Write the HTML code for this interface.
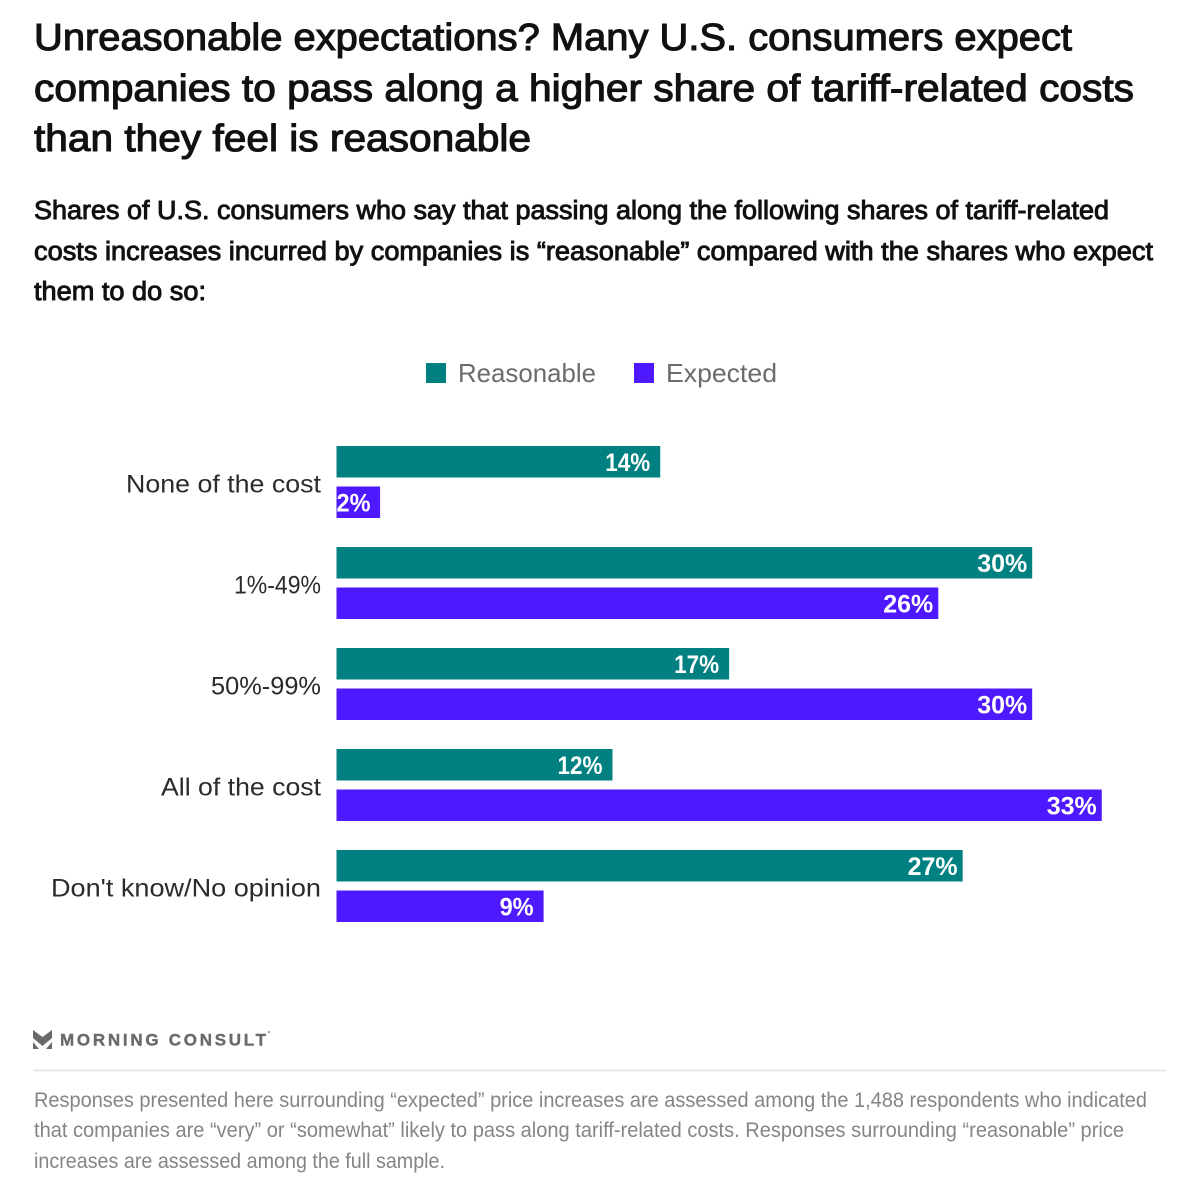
<!DOCTYPE html>
<html lang="en">
<head>
<meta charset="utf-8">
<title>Unreasonable expectations</title>
<style>
html,body{margin:0;padding:0;background:#fff;}
svg{display:block;font-family:"Liberation Sans",sans-serif;}
</style>
</head>
<body>
<svg id="chart" width="1200" height="1190" viewBox="0 0 1200 1190" xmlns="http://www.w3.org/2000/svg">
  <g fill="#111" stroke="#111" stroke-width="1.1" font-size="38">
    <text x="34" y="50" textLength="1038" lengthAdjust="spacingAndGlyphs">Unreasonable expectations? Many U.S. consumers expect</text>
    <text x="34" y="101" textLength="1100" lengthAdjust="spacingAndGlyphs">companies to pass along a higher share of tariff-related costs</text>
    <text x="34" y="151" textLength="497" lengthAdjust="spacingAndGlyphs">than they feel is reasonable</text>
  </g>
  <g fill="#111" stroke="#111" stroke-width="0.9" font-size="25.5">
    <text x="34" y="219" textLength="1075" lengthAdjust="spacingAndGlyphs">Shares of U.S. consumers who say that passing along the following shares of tariff-related</text>
    <text x="34" y="260" textLength="1119" lengthAdjust="spacingAndGlyphs">costs increases incurred by companies is “reasonable” compared with the shares who expect</text>
    <text x="34" y="300" textLength="172" lengthAdjust="spacingAndGlyphs">them to do so:</text>
  </g>
  <g font-size="26" fill="#6b6b6b">
    <g>
      <rect x="426" y="363" width="20" height="20" fill="#008080"></rect>
      <text x="458" y="382" textLength="138" lengthAdjust="spacingAndGlyphs">Reasonable</text>
    </g>
    <g>
      <rect x="634" y="363" width="20" height="20" fill="#4f19ff"></rect>
      <text x="666" y="382" textLength="111" lengthAdjust="spacingAndGlyphs">Expected</text>
    </g>
  </g>
  <g id="plot"></g>
  <g>
    <path fill="#6a6a6a" d="M33 1030 L42.5 1037 L52 1030 L52 1038 L42.5 1046 L33 1038 Z M33 1042 L39 1049 L33 1049 Z M52 1042 L52 1049 L46 1049 Z"></path>
    <text x="60" y="1045.5" font-size="17" font-weight="bold" fill="#6a6a6a" stroke="#6a6a6a" stroke-width="0.4" textLength="206" lengthAdjust="spacing">MORNING CONSULT</text>
    <circle cx="269" cy="1032" r="1" fill="#888"></circle>
  </g>
  <line x1="33" x2="1166" y1="1070.5" y2="1070.5" stroke="#e2e2e2" stroke-width="1.5"></line>
  <g font-size="21" fill="#858585">
    <text x="34" y="1107" textLength="1113" lengthAdjust="spacingAndGlyphs">Responses presented here surrounding “expected” price increases are assessed among the 1,488 respondents who indicated</text>
    <text x="34" y="1137" textLength="1090" lengthAdjust="spacingAndGlyphs">that companies are “very” or “somewhat” likely to pass along tariff-related costs. Responses surrounding “reasonable” price</text>
    <text x="34" y="1168" textLength="411" lengthAdjust="spacingAndGlyphs">increases are assessed among the full sample.</text>
  </g>
</svg>
<script>
const categories = ["None of the cost", "1%-49%", "50%-99%", "All of the cost", "Don't know/No opinion"];
const reasonableValues = [13.96, 30, 16.93, 11.9, 27];
const expectedValues = [1.88, 25.95, 30, 33, 8.93];

const NS = "http://www.w3.org/2000/svg";
const plot = document.getElementById("plot");
const x0 = 336.5;
const pxPerPoint = 23.19;
const bandTop = 446;
const bandStep = 101;
const barH = 31.5;
const barGap = 9;
const xScale = v => v * pxPerPoint;
const yScale = i => bandTop + i * bandStep;
const seriesColors = ["#008080", "#4f19ff"];
const seriesKeys = ["reasonable", "expected"];
const seriesValues = [reasonableValues, expectedValues];
const labelFit = {"None of the cost": 195, "1%-49%": 87, "50%-99%": 110, "All of the cost": 160, "Don't know/No opinion": 270};

categories.forEach((cat, i) => {
  const label = document.createElementNS(NS, "text");
  
  
  label.setAttribute("x", 321);
  label.setAttribute("y", yScale(i) + 46.5);
  label.setAttribute("text-anchor", "end");
  label.setAttribute("font-size", 25);
  label.setAttribute("fill", "#2b2b2b");
  if (labelFit[cat]) {
    label.setAttribute("textLength", labelFit[cat]);
    label.setAttribute("lengthAdjust", "spacingAndGlyphs");
  }
  label.textContent = cat;
  plot.appendChild(label);

  seriesValues.forEach((vals, s) => {
    const y = yScale(i) + s * (barH + barGap);
    const w = xScale(vals[i]);
    const bar = document.createElementNS(NS, "rect");
    
    
    bar.setAttribute("data-series", seriesKeys[s]);
    bar.setAttribute("x", x0);
    bar.setAttribute("y", y);
    bar.setAttribute("width", w);
    bar.setAttribute("height", barH);
    bar.setAttribute("fill", seriesColors[s]);
    plot.appendChild(bar);

    const printed = Math.round(vals[i]);
    const txt = document.createElementNS(NS, "text");
    
    
    const small = printed < 3;
    const singleDigit = printed < 10;
    const teens = printed >= 10 && printed < 20;
    const inset = (singleDigit || teens) ? 10 : 5;
    txt.setAttribute("x", small ? x0 : x0 + w - inset);
    txt.setAttribute("y", y + 25);
    txt.setAttribute("text-anchor", small ? "start" : "end");
    txt.setAttribute("font-size", 25);
    txt.setAttribute("font-weight", "bold");
    txt.setAttribute("fill", "#fff");
    txt.setAttribute("textLength", singleDigit ? 34 : (teens ? 45 : 50));
    txt.setAttribute("lengthAdjust", "spacingAndGlyphs");
    txt.textContent = printed + "%";
    plot.appendChild(txt);
  });
});
</script>
</body>
</html>
